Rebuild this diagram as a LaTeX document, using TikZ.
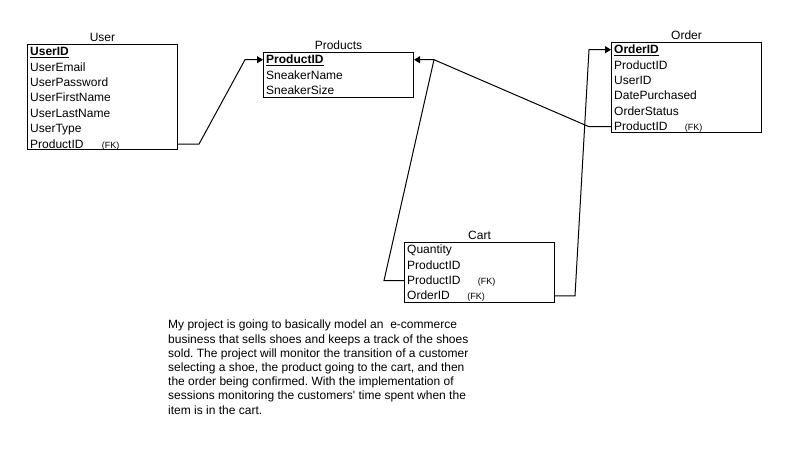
\documentclass[tikz,border=0pt]{standalone}
\usepackage{fontspec}
\setmainfont{Liberation Sans}
\usetikzlibrary{positioning,arrows.meta}
\frenchspacing

\begin{document}
\begin{tikzpicture}[
        x=1pt, y=-1pt,
        entity/.style={rectangle, draw, line width=1pt, minimum width=150pt, anchor=north west, inner sep=0pt},
        title/.style={font=\fontsize{12}{14}\selectfont, anchor=base, inner sep=0pt},
        field/.style={font=\fontsize{12}{14}\selectfont, anchor=north west, inner sep=0pt, text height=11.5pt, text depth=3.5pt},
        rowof/.style={below=0pt of #1.south west, anchor=north west},
        fk/.style={font=\fontsize{9}{10}\selectfont, anchor=base west, inner sep=0pt},
        para/.style={font=\fontsize{12}{14.2}\selectfont, align=left, anchor=north west, inner sep=0pt},
        link/.style={line width=1pt},
        arr/.style={-{Triangle[length=6pt, width=7pt]}, line width=1pt}
    ]
    \useasboundingbox (0,0) rectangle (786,467);

    % User
    \node[entity, minimum height=105pt] (user) at (27,44) {};
    \node[title] (userT) at ([yshift=3pt]user.north) {User};
    \node[field] (u1) at ([xshift=3pt]user.north west) {\underline{\textbf{UserID}}};
    \node[field, rowof=u1] (u2) {UserEmail};
    \node[field, rowof=u2] (u3) {UserPassword};
    \node[field, rowof=u3] (u4) {UserFirstName};
    \node[field, rowof=u4] (u5) {UserLastName};
    \node[field, rowof=u5] (u6) {UserType};
    \node[field, rowof=u6] (u7) {ProductID};
    \node[fk] (u7fk) at ([xshift=18pt]u7.base east) {(FK)};

    % Products
    \node[entity, minimum height=45pt] (prod) at (263,52) {};
    \node[title] (prodT) at ([yshift=3pt]prod.north) {Products};
    \node[field] (p1) at ([xshift=3pt]prod.north west) {\underline{\textbf{ProductID}}};
    \node[field, rowof=p1] (p2) {SneakerName};
    \node[field, rowof=p2] (p3) {SneakerSize};

    % Order
    \node[entity, minimum height=90pt] (order) at (611,42) {};
    \node[title] (orderT) at ([yshift=3pt]order.north) {Order};
    \node[field] (o1) at ([xshift=3pt]order.north west) {\underline{\textbf{OrderID}}};
    \node[field, rowof=o1] (o2) {ProductID};
    \node[field, rowof=o2] (o3) {UserID};
    \node[field, rowof=o3] (o4) {DatePurchased};
    \node[field, rowof=o4] (o5) {OrderStatus};
    \node[field, rowof=o5] (o6) {ProductID};
    \node[fk] (o6fk) at ([xshift=17pt]o6.base east) {(FK)};

    % Cart
    \node[entity, minimum height=60pt] (cart) at (404,242) {};
    \node[title] (cartT) at ([yshift=3pt]cart.north) {Cart};
    \node[field] (c1) at ([xshift=3pt]cart.north west) {Quantity};
    \node[field, rowof=c1] (c2) {ProductID};
    \node[field, rowof=c2] (c3) {ProductID};
    \node[field, rowof=c3] (c4) {OrderID};
    \node[fk] (c3fk) at ([xshift=17pt]c3.base east) {(FK)};
    \node[fk] (c4fk) at ([xshift=17pt]c4.base east) {(FK)};

    % relations
    \coordinate (jn) at ([xshift=20pt]prod.east |- p1);
    \draw[arr] (user.east |- u7) -- ++(21,0) -- ([xshift=-18pt]prod.west |- p1) -- (prod.west |- p1);
    \draw[arr] (order.west |- o6) -- ++(-22,0) -- (jn) -- (prod.east |- p1);
    \draw[link] (cart.west |- c3) -- ++(-20,0) -- (jn);
    \draw[arr] (cart.east |- c4) -- ++(20,0) -- ([xshift=-22pt]order.west |- o1) -- (order.west |- o1);

    % description
    \node[para] (desc) at (168,320) {My project is going to basically model an~ e-commerce\\
        business that sells shoes and keeps a track of the shoes\\
        sold. The project will monitor the transition of a customer\\
        selecting a shoe, the product going to the cart, and then\\
        the order being confirmed. With the implementation of\\
        sessions monitoring the customers\textquotesingle{} time spent when the\\
        item is in the cart.};
\end{tikzpicture}
\end{document}
